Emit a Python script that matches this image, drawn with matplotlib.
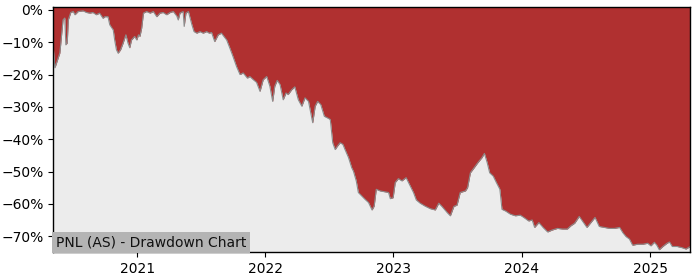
import matplotlib
matplotlib.use("Agg")
import matplotlib.pyplot as plt
import matplotlib.dates as mdates
from matplotlib.ticker import PercentFormatter
import pandas as pd

dates = [
    "2020-05-07", "2020-05-12", "2020-05-26", "2020-06-04", "2020-06-09", "2020-06-12", "2020-06-16",
    "2020-06-19", "2020-06-26", "2020-07-03", "2020-07-08", "2020-07-17", "2020-07-31", "2020-08-10",
    "2020-08-19", "2020-08-28", "2020-09-07", "2020-09-16", "2020-09-26", "2020-10-01", "2020-10-10",
    "2020-10-15", "2020-10-25", "2020-10-29", "2020-11-03", "2020-11-08", "2020-11-15", "2020-11-22",
    "2020-11-30", "2020-12-06", "2020-12-11", "2020-12-16", "2020-12-25", "2020-12-31", "2021-01-05",
    "2021-01-09", "2021-01-14", "2021-01-19", "2021-01-28", "2021-02-07", "2021-02-16", "2021-02-26",
    "2021-03-07", "2021-03-16", "2021-03-26", "2021-04-05", "2021-04-14", "2021-04-24", "2021-04-28",
    "2021-05-03", "2021-05-12", "2021-05-15", "2021-05-20", "2021-05-27", "2021-06-01", "2021-06-06",
    "2021-06-12", "2021-06-20", "2021-06-29", "2021-07-08", "2021-07-18", "2021-07-25", "2021-08-01",
    "2021-08-10", "2021-08-20", "2021-08-29", "2021-09-13", "2021-09-22", "2021-10-01", "2021-10-11",
    "2021-10-21", "2021-10-30", "2021-11-11", "2021-11-18", "2021-11-28", "2021-12-07", "2021-12-17",
    "2021-12-26", "2022-01-05", "2022-01-14", "2022-01-22", "2022-01-28", "2022-02-04", "2022-02-12",
    "2022-02-21", "2022-03-01", "2022-03-07", "2022-03-17", "2022-03-26", "2022-04-05", "2022-04-15",
    "2022-04-24", "2022-05-04", "2022-05-16", "2022-05-23", "2022-05-30", "2022-06-08", "2022-06-18",
    "2022-06-27", "2022-07-05", "2022-07-12", "2022-07-19", "2022-07-25", "2022-08-02", "2022-08-10",
    "2022-08-16", "2022-08-26", "2022-09-04", "2022-09-09", "2022-09-17", "2022-09-23", "2022-10-03",
    "2022-10-12", "2022-10-22", "2022-11-01", "2022-11-07", "2022-11-13", "2022-11-24", "2022-12-09",
    "2022-12-18", "2022-12-23", "2022-12-31", "2023-01-06", "2023-01-15", "2023-01-25", "2023-02-06",
    "2023-02-18", "2023-02-27", "2023-03-07", "2023-03-18", "2023-04-01", "2023-04-16", "2023-04-30",
    "2023-05-10", "2023-05-19", "2023-06-03", "2023-06-12", "2023-06-22", "2023-07-01", "2023-07-10",
    "2023-07-25", "2023-07-31", "2023-08-08", "2023-08-19", "2023-08-29", "2023-09-10", "2023-09-17",
    "2023-09-25", "2023-10-02", "2023-10-12", "2023-10-21", "2023-10-31", "2023-11-06", "2023-11-16",
    "2023-11-30", "2023-12-14", "2023-12-28", "2024-01-07", "2024-01-21", "2024-01-31", "2024-02-07",
    "2024-02-19", "2024-03-02", "2024-03-15", "2024-03-28", "2024-04-12", "2024-04-26", "2024-05-10",
    "2024-05-20", "2024-05-31", "2024-06-13", "2024-06-22", "2024-07-05", "2024-07-16", "2024-07-28",
    "2024-08-09", "2024-08-24", "2024-09-07", "2024-09-21", "2024-10-06", "2024-10-15", "2024-10-24",
    "2024-11-03", "2024-11-12", "2024-11-26", "2024-12-11", "2024-12-25", "2025-01-03", "2025-01-13",
    "2025-01-20", "2025-01-27", "2025-02-06", "2025-02-18", "2025-02-25", "2025-03-05", "2025-03-19",
    "2025-04-03", "2025-04-13", "2025-04-19", "2025-04-25",
]

drawdown = [
    -11.4, -17.9, -13.3, -3.1, -2.5, -10.8, -10.2,
    -3.1, -0.8, -0.5, -1.5, -0.5, -0.3, -0.8,
    -1.0, -0.8, -1.5, -1.0, -2.6, -2.1, -2.1,
    -4.6, -6.2, -9.3, -12.3, -13.4, -12.3, -10.3,
    -7.7, -10.3, -11.7, -9.3, -8.2, -9.3, -7.7,
    -8.2, -5.6, -1.0, -0.5, -1.0, -0.5, -2.1,
    -1.0, -0.8, -1.5, -0.8, -0.5, -1.9, -3.1,
    -1.0, -0.5, -5.1, -1.0, -0.5, -2.6, -4.6,
    -6.7, -7.2, -6.7, -7.2, -6.7, -7.2, -7.0,
    -9.8, -7.7, -7.2, -9.3, -11.8, -14.4, -17.5,
    -20.0, -19.5, -21.1, -20.6, -21.6, -22.4, -25.2,
    -21.6, -20.6, -23.6, -28.3, -23.6, -21.8, -23.1,
    -27.8, -25.7, -26.2, -24.7, -23.8, -27.8, -29.8,
    -27.2, -28.3, -34.9, -29.8, -28.3, -29.3, -32.9,
    -33.4, -33.9, -41.1, -43.2, -42.2, -41.1, -41.6,
    -43.2, -45.7, -48.8, -49.9, -52.9, -56.5, -57.6,
    -58.6, -59.6, -61.9, -60.7, -55.5, -56.0, -56.3,
    -56.5, -58.4, -58.1, -53.4, -52.2, -52.9, -51.9,
    -54.5, -56.5, -58.8, -59.8, -60.7, -61.5, -61.9,
    -59.8, -60.8, -62.7, -63.7, -60.8, -60.4, -56.5,
    -56.0, -55.0, -50.4, -48.8, -47.3, -45.7, -44.4,
    -47.3, -50.4, -51.4, -53.4, -55.5, -61.7, -62.2,
    -63.2, -63.7, -63.5, -64.2, -65.3, -65.0, -67.3,
    -65.8, -67.3, -68.7, -68.1, -67.6, -67.8, -67.8,
    -66.8, -66.0, -63.9, -65.3, -67.3, -65.8, -64.2,
    -67.0, -67.3, -67.6, -67.6, -67.3, -68.9, -70.1,
    -70.9, -72.8, -72.5, -72.5, -72.2, -73.0, -71.9,
    -72.8, -74.2, -73.2, -72.2, -71.8, -73.2, -73.2,
    -73.6, -74.0, -73.6, -73.2,
]

title_text = "PNL (AS) - Drawdown Chart"

x = pd.to_datetime(dates)

fig = plt.figure(figsize=(7, 2.8), dpi=100)
ax = fig.add_axes([0.076, 0.1, 0.91, 0.875])
red = "#b03030"
ax.set_facecolor(red)
ymin, ymax = -74.9, 0.9
ax.fill_between(x, drawdown, ymin - 10, color="#ececec", linewidth=0, zorder=1)
ax.plot(x, drawdown, color="#8c8c8c", linewidth=0.8, zorder=2)
ax.set_ylim(ymin, ymax)
ax.set_xlim(x[0], x[-1])
ax.set_yticks(range(-70, 1, 10))
ax.yaxis.set_major_formatter(PercentFormatter(decimals=0))
ax.xaxis.set_major_locator(mdates.YearLocator())
ax.xaxis.set_major_formatter(mdates.DateFormatter("%Y"))
for s in ax.spines.values():
    s.set_linewidth(1.0)
ax.text(0.004, 0.012, title_text, transform=ax.transAxes, ha="left", va="bottom",
        fontsize=10, color="#111111", zorder=5,
        bbox=dict(facecolor="#b4b4b4", edgecolor="none", pad=2.5))
fig.savefig("out.png", dpi=100)
